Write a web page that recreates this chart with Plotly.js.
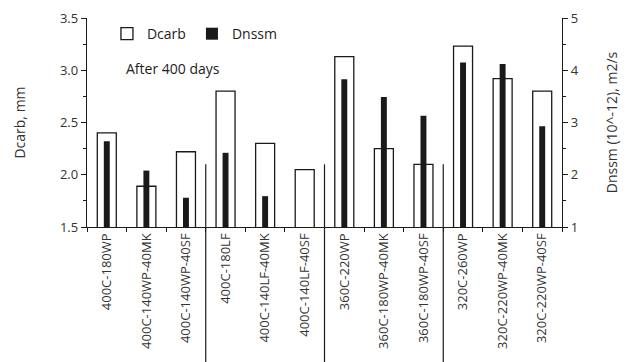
<!DOCTYPE html>
<html>
<head>
<meta charset="utf-8">
<script src="https://cdn.plot.ly/plotly-3.0.1.min.js"></script>
<style>html,body{margin:0;padding:0;background:#fff;}#chart{width:635px;height:362px;}</style>
</head>
<body>
<div id="chart"></div>
<script>
const categories = ["400C-180WP","400C-140WP-40MK","400C-140WP-40SF","400C-180LF","400C-140LF-40MK","400C-140LF-40SF","360C-220WP","360C-180WP-40MK","360C-180WP-40SF","320C-260WP","320C-220WP-40MK","320C-220WP-40SF"];
const dcarb = [2.40, 1.89, 2.22, 2.80, 2.30, 2.05, 3.13, 2.25, 2.10, 3.23, 2.92, 2.80];
const dnssm = [2.64, 2.08, 1.56, 2.42, 1.59, null, 3.83, 3.49, 3.13, 4.15, 4.12, 2.93];
const groupBreaks = [2.5, 5.5, 8.5];

const font = "'Open Sans', sans-serif";
const traces = [
  {type:'bar', name:'Dcarb', x:categories, y:dcarb, yaxis:'y', width:0.48,
   marker:{color:'#ffffff', line:{color:'#1a1a1a', width:1.3}}},
  {type:'bar', name:'Dnssm', x:categories, y:dnssm, yaxis:'y2', width:0.15,
   marker:{color:'#1a1a1a', line:{color:'#1a1a1a', width:0}}}
];
const shapes = groupBreaks.map(b => ({type:'line', xref:'x', yref:'paper', x0:b, x1:b, y0:0.30, y1:-0.66,
  line:{color:'#1a1a1a', width:1.2}}));
const layout = {
  width:635, height:362,
  margin:{l:87, r:73, t:18, b:135},
  paper_bgcolor:'#fff', plot_bgcolor:'#fff',
  font:{family:font, color:'#333', size:12},
  barmode:'overlay',
  showlegend:true,
  legend:{orientation:'h', x:0.042, y:0.923, xanchor:'left', yanchor:'middle', bgcolor:'rgba(0,0,0,0)',
    font:{family:font, size:14, color:'#222'}, entrywidth:40, itemwidth:30, tracegroupgap:0},
  xaxis:{type:'category', tickson:'boundaries', ticks:'outside', ticklen:4, tickcolor:'#1a1a1a',
    showline:true, linecolor:'#1a1a1a', linewidth:1.2, showgrid:false, tickangle:-90,
    tickfont:{family:font, size:13, color:'#333'}, range:[-0.5, 11.5], automargin:false},
  yaxis:{range:[1.5, 3.5], dtick:0.5, tickformat:'.1f', ticks:'outside', ticklen:5, tickcolor:'#1a1a1a',
    showline:true, linecolor:'#1a1a1a', linewidth:1.2, showgrid:false, zeroline:false,
    minor:{dtick:0.25, ticks:'outside', ticklen:3, tickcolor:'#1a1a1a', showgrid:false},
    tickfont:{family:font, size:13, color:'#333'},
    title:{text:'Dcarb, mm', font:{family:font, size:14, color:'#333'}, standoff:31}, automargin:false},
  yaxis2:{overlaying:'y', side:'right', range:[1, 5], dtick:1, ticks:'outside', ticklen:5, tickcolor:'#1a1a1a',
    showline:true, linecolor:'#1a1a1a', linewidth:1.2, showgrid:false, zeroline:false,
    minor:{dtick:0.5, ticks:'outside', ticklen:3, tickcolor:'#1a1a1a', showgrid:false},
    tickfont:{family:font, size:13, color:'#333'},
    title:{text:'Dnssm (10^-12), m2/s', font:{family:font, size:14, color:'#333'}, standoff:29}, automargin:false},
  shapes:shapes,
  annotations:[{text:'After 400 days', xref:'paper', yref:'paper', x:0.078, y:0.76, xanchor:'left', yanchor:'middle',
    showarrow:false, font:{family:font, size:14, color:'#222'}}]
};
Plotly.newPlot('chart', traces, layout, {displayModeBar:false, staticPlot:true});
</script>
</body>
</html>
